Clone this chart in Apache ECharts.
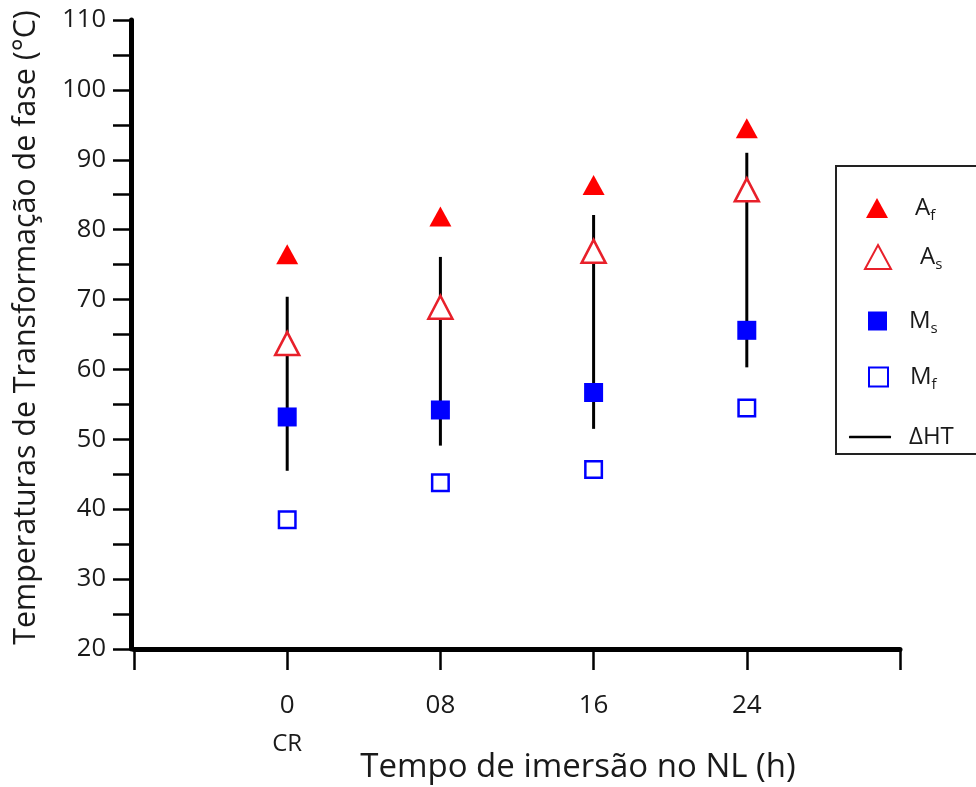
<!DOCTYPE html>
<html>
<head>
<meta charset="utf-8">
<script src="https://cdn.jsdelivr.net/npm/echarts@6/dist/echarts.min.js"></script>
<style>
  html, body { margin: 0; padding: 0; background: #fff; }
  #chart { width: 976px; height: 787px; }
</style>
</head>
<body>
<div id="chart"></div>
<script>
// Immersion time in liquid nitrogen (hours) and the tick labels shown under each
const hours = [0, 8, 16, 24];
const hourLabels = ['0', '08', '16', '24'];
const controlLabel = 'CR';

// Transformation temperatures (°C)
const afValues = [76.5, 81.9, 86.4, 94.5];
const asValues = [63.7, 68.9, 76.9, 85.7];
const msValues = [53.2, 54.2, 56.7, 65.6];
const mfValues = [38.5, 43.8, 45.7, 54.5];

// Thermal hysteresis bars (low / high ends)
const htLow = [45.5, 49.1, 51.5, 60.3];
const htHigh = [70.4, 76.1, 82.1, 91.0];

const FONT = '"Open Sans", "DejaVu Sans", sans-serif';
const TEXT = '#1a1a1a';

const pairs = (ys) => hours.map((h, i) => [h, ys[i]]);

const chart = echarts.init(document.getElementById('chart'));

const legendText = {
  fontFamily: FONT,
  fontSize: 24,
  color: TEXT,
  lineHeight: 30,
  rich: {
    sub: { fontFamily: FONT, fontSize: 15, lineHeight: 14, verticalAlign: 'bottom', color: TEXT }
  }
};
const subFormatter = (name) => name.charAt(0) + '{sub|' + name.slice(1) + '}';

function legendFor(name, left, top, w, h, padLeft, fmt) {
  return {
    data: [name],
    orient: 'vertical',
    left: left,
    top: top,
    padding: 0,
    itemWidth: w,
    itemHeight: h,
    selectedMode: false,
    formatter: fmt,
    textStyle: Object.assign({}, legendText, { padding: [0, 0, 0, padLeft] })
  };
}

chart.setOption({
  animation: false,
  backgroundColor: '#fff',
  grid: { left: 134, right: 76, top: 20, bottom: 138, containLabel: false, outerBoundsMode: 'none' },
  xAxis: {
    type: 'value',
    min: -8,
    max: 32,
    interval: 8,
    name: 'Tempo de imersão no NL (h)',
    nameLocation: 'middle',
    nameGap: 102,
    nameMoveOverlap: false,
    nameTextStyle: { fontFamily: FONT, fontSize: 33, color: TEXT, padding: [0, 0, 0, 122] },
    axisLine: { show: true, onZero: false, lineStyle: { color: '#000', width: 5 } },
    axisTick: { show: true, length: 21, lineStyle: { color: '#000', width: 2.5 } },
    splitLine: { show: false },
    axisLabel: {
      margin: 38,
      formatter: (v) => {
        const i = hours.indexOf(v);
        if (i < 0) return '';
        return i === 0 ? '{a|' + hourLabels[i] + '}\n{b|' + controlLabel + '}' : '{a|' + hourLabels[i] + '}';
      },
      rich: {
        a: { fontFamily: FONT, fontSize: 26, lineHeight: 38, color: TEXT },
        b: { fontFamily: FONT, fontSize: 24, lineHeight: 38, color: TEXT }
      }
    }
  },
  yAxis: {
    type: 'value',
    min: 20,
    max: 110,
    interval: 5,
    offset: 3,
    name: 'Temperaturas de Transformação de fase (°C)',
    nameLocation: 'middle',
    nameRotate: 90,
    nameGap: 90,
    nameMoveOverlap: false,
    nameTextStyle: { fontFamily: FONT, fontSize: 30.4, color: TEXT, padding: [0, 0, 0, 14] },
    axisLine: { show: true, onZero: false, lineStyle: { color: '#000', width: 5 } },
    axisTick: { show: true, length: 18, lineStyle: { color: '#000', width: 2.5 } },
    splitLine: { show: false },
    axisLabel: {
      margin: 25,
      fontFamily: FONT,
      fontSize: 25.5,
      color: TEXT,
      formatter: (v) => (v % 10 === 0 ? String(v) : '')
    }
  },
  legend: [
    legendFor('Af', 866, 193, 22, 20, 22, subFormatter),
    legendFor('As', 864, 242, 26, 24, 24, subFormatter),
    legendFor('Ms', 868, 306, 19, 19, 17, subFormatter),
    legendFor('Mf', 868, 362, 19, 19, 17, subFormatter),
    legendFor('ΔHT', 849, 422, 42, 2.5, 13, (n) => n)
  ],
  graphic: [
    {
      type: 'rect',
      shape: { x: 836, y: 166, width: 160, height: 288 },
      style: { fill: 'none', stroke: '#222', lineWidth: 2 },
      silent: true
    }
  ],
  series: [
    {
      name: 'ΔHT',
      type: 'custom',
      z: 1,
      itemStyle: { color: '#000' },
      data: hours.map((h, i) => [h, htLow[i], htHigh[i]]),
      encode: { x: 0, y: [1, 2] },
      renderItem: (params, api) => {
        const p1 = api.coord([api.value(0), api.value(1)]);
        const p2 = api.coord([api.value(0), api.value(2)]);
        return {
          type: 'line',
          shape: { x1: p1[0], y1: p1[1], x2: p2[0], y2: p2[1] },
          style: { stroke: '#000', lineWidth: 3 }
        };
      }
    },
    {
      name: 'Af',
      type: 'scatter',
      z: 3,
      symbol: 'triangle',
      symbolSize: [22, 20],
      itemStyle: { color: '#ff0000', opacity: 1 },
      data: pairs(afValues)
    },
    {
      name: 'As',
      type: 'scatter',
      z: 3,
      symbol: 'triangle',
      symbolSize: [24, 23],
      itemStyle: { color: '#ffffff', borderColor: '#e8202a', borderWidth: 2.5, opacity: 1 },
      data: pairs(asValues)
    },
    {
      name: 'Ms',
      type: 'scatter',
      z: 3,
      symbol: 'rect',
      symbolSize: 19,
      itemStyle: { color: '#0000ff', opacity: 1 },
      data: pairs(msValues)
    },
    {
      name: 'Mf',
      type: 'scatter',
      z: 3,
      symbol: 'rect',
      symbolSize: 16.5,
      itemStyle: { color: '#ffffff', borderColor: '#0000ff', borderWidth: 2.5, opacity: 1 },
      data: pairs(mfValues)
    }
  ]
});
</script>
</body>
</html>
